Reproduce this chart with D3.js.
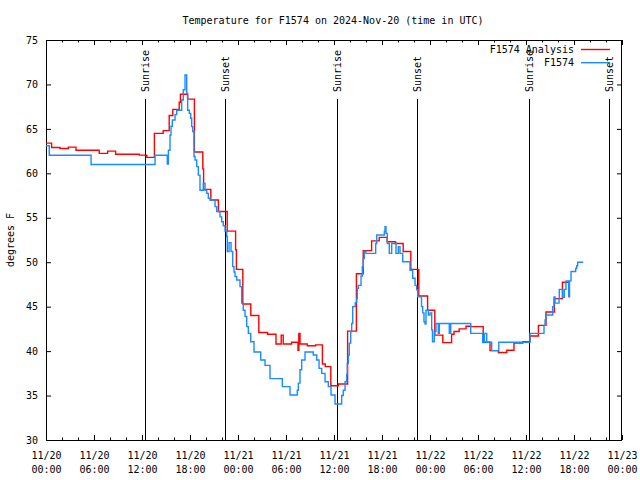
<!DOCTYPE html>
<html><head><meta charset="utf-8">
<script src="https://cdn.jsdelivr.net/npm/d3@7"></script>
<style>
body{margin:0;background:#fff;}
svg{display:block;}
text{font-family:"DejaVu Sans Mono",monospace;font-size:10px;fill:#000;}
</style></head>
<body><svg id="c" width="640" height="480"></svg>
<script>
// ---- data (hours since 2024-11-20 00:00 UTC) ----
const titleText = "Temperature for F1574 on 2024-Nov-20 (time in UTC)";
const yLabel = "degrees F";
const seriesNames = ["F1574 Analysis", "F1574"];
const seriesColors = ["#ff0000", "#1a8cff"];

const analysisT = [0,0.7,1.75,2.8,3.75,6.65,7.7,8.7,11.65,12.6,13.55,14.65,15.4,15.85,16.65,16.8,17.7,18.55,19.6,19.7,20.6,21.55,22.65,23.7,23.8,24.6,25.6,26.6,27.7,28.75,29.4,29.65,30.7,31.5,31.6,31.75,32.65,33.7,34.55,34.9,35.6,36.55,37.7,38.8,39.65,40.7,41.65,42.65,43.7,44.65,45.6,46.6,47.7,48.6,49.6,50.7,51.0,51.65,52.5,53.1,54.65,55.5,56.55,57.6,58.5,59.6,60.5,61.55,62.5,63.55,64.55,65.4];
const analysisV = [63.4,62.9,62.8,62.95,62.6,62.25,62.5,62.15,62.05,61.8,64.5,64.8,66.5,67.2,68.0,68.9,68.35,62.4,60.5,58.2,57.0,55.7,53.5,51.4,49.2,45.3,44.0,42.1,41.9,40.8,41.8,40.8,41.0,40.1,42.0,40.8,40.6,40.7,38.55,38.25,36.1,36.3,42.25,48.7,51.3,52.4,52.8,52.3,52.1,51.2,49.2,46.2,44.6,41.8,40.95,41.9,42.2,42.5,42.8,42.75,41.0,40.05,39.85,40.1,40.9,41.05,41.7,42.9,44.4,45.9,47.75,47.75];

const obsT = [0,0.41,5.63,13.63,15.16,15.3,15.5,15.63,15.79,16.13,16.34,16.96,17.16,17.38,17.59,17.71,17.91,18.09,18.21,18.34,18.5,18.63,18.84,19.04,19.25,19.66,19.88,20.09,20.29,20.5,21.13,21.34,21.75,21.96,22.16,22.38,22.59,22.66,22.88,23.13,23.34,23.5,23.63,23.84,24.25,24.46,24.66,24.88,25.09,25.29,25.59,26.0,26.84,27.38,28.0,29.54,30.5,31.41,31.54,31.75,31.96,32.38,33.41,33.84,34.13,34.46,34.88,35.29,35.63,36.13,36.96,37.16,37.38,37.59,37.66,37.79,37.91,38.09,38.21,38.34,38.66,38.84,38.91,39.04,39.38,39.54,39.66,39.79,40.0,41.21,41.34,42.29,42.38,42.5,42.66,42.91,43.21,43.75,44.04,44.25,44.59,45.5,45.84,46.13,46.34,46.46,46.94,47.09,47.25,47.38,47.5,47.79,48.0,48.21,48.31,48.54,48.75,49.04,49.16,50.41,50.59,53.09,54.59,54.81,55.09,55.71,56.6,60.5,62.25,62.38,62.5,63.34,63.5,63.63,64.13,64.16,64.59,64.79,65.0,65.34,65.44,65.63,66.21,66.34,66.46,67.16];
const obsV = [63.1,62.03,61.0,62.03,61.05,62.6,64.3,65.3,66.0,66.6,67.1,68.25,69.4,71.06,69.0,67.1,66.75,66.2,65.25,64.7,61.9,61.5,60.75,59.8,58.1,58.9,58.1,57.75,57.2,57.0,56.25,55.7,55.1,54.55,54.1,53.5,52.9,51.2,52.2,51.2,49.5,48.9,48.4,48.0,47.25,45.4,44.6,43.9,42.75,42.0,41.06,39.9,39.0,38.4,36.9,36.0,35.06,35.6,36.4,37.9,39.0,39.9,39.56,39.0,38.06,37.5,36.56,36.0,35.06,34.05,35.0,35.6,36.56,37.4,38.6,39.56,40.9,42.2,43.1,45.0,45.45,45.9,47.06,47.4,48.45,49.5,50.4,51.2,51.0,52.1,53.06,53.45,54.0,53.25,52.1,51.0,52.1,51.0,51.75,51.0,50.06,49.1,48.2,47.4,46.9,46.1,45.0,44.3,43.3,43.05,44.6,44.06,44.3,42.4,41.06,42.2,43.1,42.0,43.1,42.0,43.1,42.0,40.95,42.0,41.0,40.05,41.0,42.0,42.9,43.5,44.06,45.0,46.1,45.4,45.9,46.95,46.05,46.95,47.9,46.1,47.9,48.95,49.3,49.6,50.0,50.0];

const sunEvents = [
  {t:12.42, label:"Sunrise"},{t:22.38, label:"Sunset"},
  {t:36.43, label:"Sunrise"},{t:46.4, label:"Sunset"},
  {t:60.42, label:"Sunrise"},{t:70.33, label:"Sunset"}
];

const xMajorTicks = [0,6,12,18,24,30,36,42,48,54,60,66,72];
const xMinorTicks = [2,4,8,10,14,16,20,22,26,28,32,34,38,40,44,46,50,52,56,58,62,64,68,70];
const xTickDates = ["11/20","11/20","11/20","11/20","11/21","11/21","11/21","11/21","11/22","11/22","11/22","11/22","11/23"];
const xTickTimes = ["00:00","06:00","12:00","18:00","00:00","06:00","12:00","18:00","00:00","06:00","12:00","18:00","00:00"];
const yTicks = [30,35,40,45,50,55,60,65,70,75];

// ---- layout ----
const L=46, R=622, T=40, B=440;
const svg = d3.select("#c");
const x = d3.scaleLinear().domain([0,72]).range([L,R]);
const y = d3.scaleLinear().domain([30,75]).range([B,T]);

// title
svg.append("text").attr("x",333).attr("y",23.5).attr("text-anchor","middle").text(titleText);
svg.append("text").attr("transform","translate(14,240) rotate(-90)").attr("text-anchor","middle").text(yLabel);

// axes
const styleAxis = g => { g.select(".domain").remove(); g.selectAll("line").attr("stroke","#000"); g.selectAll("text").attr("font-family","DejaVu Sans Mono").attr("font-size",10); };

svg.append("g").attr("transform",`translate(${L},0)`)
  .call(d3.axisLeft(y).tickValues(yTicks).tickSize(-5).tickPadding(8).tickFormat(d3.format("d")))
  .call(styleAxis);
svg.append("g").attr("transform",`translate(${R},0)`)
  .call(d3.axisRight(y).tickValues(yTicks).tickSize(-5).tickFormat(""))
  .call(styleAxis);

const bx = svg.append("g").attr("transform",`translate(0,${B})`)
  .call(d3.axisBottom(x).tickValues(xMajorTicks).tickSize(-5).tickPadding(12).tickFormat((d,i)=>xTickDates[i]))
  .call(styleAxis);
bx.selectAll(".tick text").each(function(d,i){
  d3.select(this).append("tspan").attr("x",0).attr("dy","14").text(xTickTimes[i]);
});
svg.append("g").attr("transform",`translate(0,${B})`)
  .call(d3.axisBottom(x).tickValues(xMinorTicks).tickSize(-2.5).tickFormat(""))
  .call(styleAxis);
svg.append("g").attr("transform",`translate(0,${T})`)
  .call(d3.axisTop(x).tickValues(xMajorTicks).tickSize(-5).tickFormat(""))
  .call(styleAxis);
svg.append("g").attr("transform",`translate(0,${T})`)
  .call(d3.axisTop(x).tickValues(xMinorTicks).tickSize(-2.5).tickFormat(""))
  .call(styleAxis);

// frame
svg.append("rect").attr("x",L+0.5).attr("y",T+0.5).attr("width",R-L-1).attr("height",B-T)
  .attr("fill","none").attr("stroke","#000").attr("stroke-width",1);

// sunrise / sunset lines
const sg = svg.append("g");
sunEvents.forEach(e=>{
  const xp = Math.round(x(e.t))+0.5;
  sg.append("line").attr("x1",xp).attr("x2",xp).attr("y1",99).attr("y2",B)
    .attr("stroke","#000").attr("stroke-width",1);
  sg.append("text").attr("transform",`translate(${xp},92) rotate(-90)`)
    .attr("dy","0.35em").attr("text-anchor","start").text(e.label);
});

// series
const line = d3.line().x(d=>x(d[0])).y(d=>y(d[1])).curve(d3.curveStepAfter);
const aData = analysisT.map((t,i)=>[t,analysisV[i]]);
const oData = obsT.map((t,i)=>[t,obsV[i]]);
svg.append("path").datum(aData).attr("d",line).attr("fill","none")
  .attr("stroke",seriesColors[0]).attr("stroke-width",1.4);
svg.append("path").datum(oData).attr("d",line).attr("fill","none")
  .attr("stroke",seriesColors[1]).attr("stroke-width",1.4);

// legend
const lg = svg.append("g");
seriesNames.forEach((n,i)=>{
  const yy = 49.5 + i*13.2;
  lg.append("text").attr("x",574).attr("y",yy).attr("dy","0.35em").attr("text-anchor","end").text(n);
  lg.append("line").attr("x1",581).attr("x2",610).attr("y1",yy).attr("y2",yy)
    .attr("stroke",seriesColors[i]).attr("stroke-width",1.4);
});
</script></body></html>
